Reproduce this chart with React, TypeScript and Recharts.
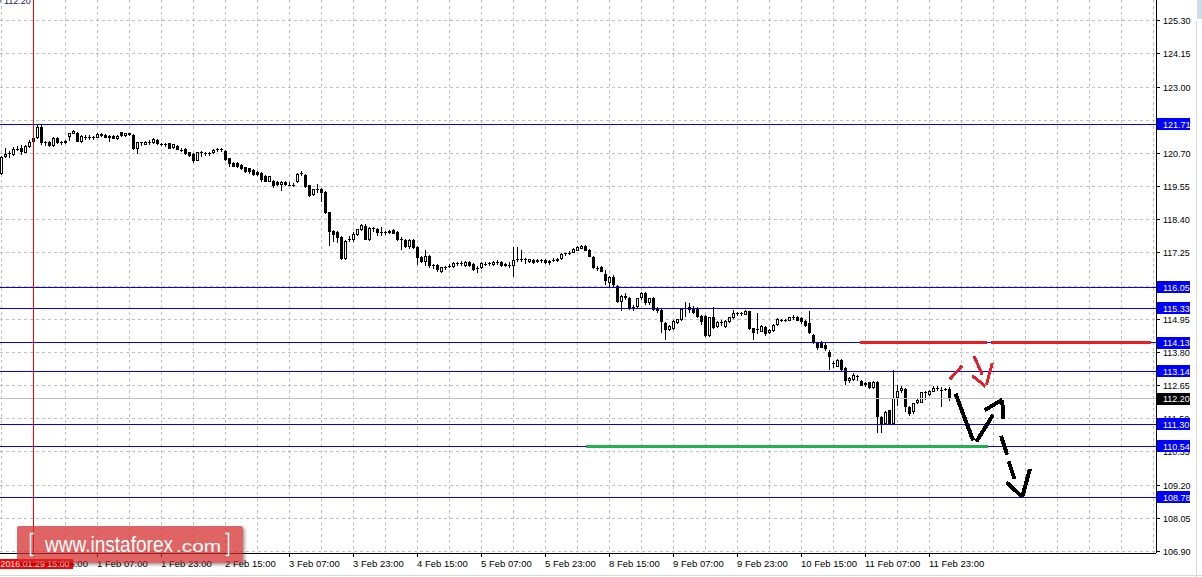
import { ComposedChart, Bar, XAxis, YAxis, CartesianGrid, ReferenceLine } from 'recharts';

const FONT = '"Liberation Sans", Arial, sans-serif';

// hourly candles, 29 Jan 07:00 .. 12 Feb 04:00
const opens = [
  120.00, 120.57, 120.68, 120.65, 120.86, 120.88, 120.72, 120.93, 121.10, 121.22,
  121.63, 121.05, 121.08, 120.95, 121.24, 121.06, 121.05, 121.28, 121.38, 121.42,
  121.11, 121.28, 121.27, 121.26, 121.25, 121.37, 121.34, 121.22, 121.31, 121.19,
  121.43, 121.30, 121.40, 121.34, 120.85, 121.08, 121.00, 121.11, 121.05, 121.17,
  121.03, 121.02, 121.05, 120.88, 120.96, 120.82, 120.86, 120.73, 120.68, 120.45,
  120.73, 120.70, 120.70, 120.70, 120.82, 120.85, 120.79, 120.53, 120.38, 120.37,
  120.30, 120.21, 120.18, 120.13, 120.07, 120.01, 119.92, 119.72, 119.75, 119.72,
  119.61, 119.72, 119.60, 119.62, 119.69, 120.00, 119.96, 119.60, 119.27, 119.46,
  119.45, 119.37, 118.65, 118.01, 117.99, 117.79, 117.04, 117.70, 117.68, 117.87,
  118.03, 118.19, 117.70, 118.10, 118.07, 117.95, 117.98, 117.93, 118.04, 117.98,
  117.72, 117.70, 117.45, 117.70, 117.45, 117.12, 116.95, 117.14, 116.78, 116.83,
  116.57, 116.75, 116.78, 116.76, 116.89, 116.88, 116.80, 116.95, 116.87, 116.72,
  116.72, 116.87, 116.88, 116.82, 116.93, 116.92, 116.87, 116.82, 116.78, 116.99,
  117.02, 117.04, 116.92, 117.01, 116.92, 117.00, 117.01, 116.90, 116.99, 116.96,
  117.04, 117.22, 117.23, 117.26, 117.33, 117.40, 117.48, 117.35, 117.12, 116.74,
  116.75, 116.52, 116.22, 116.43, 116.10, 115.56, 115.74, 115.68, 115.32, 115.36,
  115.67, 115.85, 115.50, 115.68, 115.29, 115.27, 114.81, 114.58, 114.60, 114.81,
  114.91, 115.33, 115.37, 115.33, 115.33, 115.07, 115.06, 114.37, 115.02, 114.67,
  114.87, 114.68, 114.84, 114.99, 115.15, 115.13, 115.10, 115.22, 114.64, 114.62,
  114.52, 114.68, 114.47, 114.53, 114.76, 114.93, 114.92, 114.90, 115.01, 115.03,
  114.98, 114.90, 114.81, 114.41, 114.14, 114.14, 114.05, 113.83, 113.42, 113.31,
  113.55, 113.26, 112.80, 112.85, 112.99, 112.82, 112.73, 112.76, 112.56, 112.76,
  111.55, 111.33, 111.79, 111.33, 112.21, 112.45, 112.53, 111.91, 111.72, 112.04,
  112.06, 112.41, 112.34, 112.43, 112.55, 112.50, 112.50, 112.53,
];
const highs = [
  120.61, 120.88, 120.78, 120.93, 120.95, 121.00, 121.00, 121.17, 121.25, 121.69,
  121.72, 121.14, 121.12, 121.28, 121.28, 121.14, 121.16, 121.42, 121.52, 121.45,
  121.34, 121.33, 121.32, 121.29, 121.39, 121.40, 121.37, 121.34, 121.33, 121.32,
  121.45, 121.42, 121.42, 121.36, 121.11, 121.11, 121.14, 121.17, 121.22, 121.19,
  121.06, 121.06, 121.07, 121.04, 121.00, 120.88, 120.88, 120.75, 120.70, 120.76,
  120.78, 120.73, 120.76, 120.85, 120.88, 120.88, 120.82, 120.55, 120.40, 120.40,
  120.32, 120.24, 120.20, 120.15, 120.10, 120.04, 119.95, 119.92, 119.78, 119.74,
  119.75, 119.74, 119.69, 119.67, 120.02, 120.09, 120.00, 119.62, 119.48, 119.64,
  119.50, 119.40, 118.68, 118.05, 118.02, 117.82, 117.70, 117.84, 117.96, 118.09,
  118.26, 118.24, 118.14, 118.13, 118.12, 118.13, 118.01, 118.05, 118.07, 118.00,
  117.80, 117.74, 117.72, 117.74, 117.48, 117.15, 117.35, 117.17, 116.85, 116.86,
  116.76, 116.80, 116.85, 116.92, 116.94, 116.98, 116.98, 116.98, 116.90, 116.80,
  116.92, 116.92, 116.94, 116.98, 117.01, 116.96, 116.90, 116.92, 117.45, 117.45,
  117.35, 117.07, 117.05, 117.03, 117.03, 117.03, 117.03, 117.00, 117.07, 117.07,
  117.26, 117.26, 117.33, 117.42, 117.50, 117.53, 117.51, 117.38, 117.15, 116.80,
  116.79, 116.64, 116.45, 116.47, 116.14, 115.78, 115.86, 115.72, 115.45, 115.70,
  115.89, 115.88, 115.70, 115.72, 115.36, 115.30, 114.84, 114.74, 114.93, 114.97,
  115.32, 115.53, 115.51, 115.41, 115.36, 115.10, 115.09, 115.04, 115.39, 114.90,
  114.92, 114.93, 115.04, 115.27, 115.19, 115.19, 115.27, 115.25, 114.66, 115.16,
  114.74, 114.71, 114.60, 114.78, 114.98, 114.97, 114.97, 115.04, 115.08, 115.06,
  115.01, 114.94, 115.22, 114.44, 114.17, 114.20, 114.12, 113.90, 113.50, 113.58,
  113.58, 113.29, 112.95, 113.07, 113.01, 112.86, 112.76, 112.79, 112.80, 112.80,
  111.58, 111.76, 111.82, 113.20, 112.68, 112.62, 112.57, 111.93, 112.05, 112.18,
  112.44, 112.46, 112.48, 112.65, 112.62, 112.60, 112.58, 112.59,
];
const lows = [
  119.95, 120.53, 120.55, 120.62, 120.78, 120.64, 120.70, 120.90, 121.07, 121.20,
  121.00, 120.95, 120.93, 120.93, 121.02, 120.99, 121.03, 121.14, 121.36, 121.08,
  121.07, 121.17, 121.17, 121.17, 121.23, 121.26, 121.22, 121.11, 121.19, 121.17,
  121.28, 121.28, 121.30, 120.82, 120.68, 120.96, 120.98, 121.00, 121.03, 121.00,
  120.95, 120.93, 120.84, 120.85, 120.80, 120.74, 120.63, 120.58, 120.38, 120.42,
  120.58, 120.61, 120.61, 120.68, 120.76, 120.76, 120.44, 120.24, 120.21, 120.18,
  120.13, 120.01, 120.00, 119.92, 119.92, 119.72, 119.70, 119.69, 119.49, 119.58,
  119.41, 119.56, 119.57, 119.53, 119.66, 119.90, 119.49, 119.20, 119.22, 119.32,
  119.03, 118.60, 117.49, 117.64, 117.59, 116.99, 117.00, 117.62, 117.62, 117.84,
  118.00, 117.68, 117.66, 117.98, 117.82, 117.84, 117.86, 117.90, 117.89, 117.65,
  117.35, 117.42, 117.40, 117.38, 116.83, 116.90, 116.78, 116.72, 116.70, 116.60,
  116.54, 116.66, 116.71, 116.74, 116.80, 116.80, 116.77, 116.76, 116.63, 116.55,
  116.70, 116.78, 116.79, 116.80, 116.84, 116.76, 116.75, 116.72, 116.40, 116.94,
  116.95, 116.87, 116.90, 116.88, 116.89, 116.89, 116.87, 116.84, 116.92, 116.94,
  117.02, 117.14, 117.18, 117.24, 117.32, 117.38, 117.31, 117.10, 116.70, 116.63,
  116.58, 116.14, 116.08, 116.05, 115.50, 115.22, 115.60, 115.28, 115.25, 115.33,
  115.62, 115.45, 115.46, 115.24, 115.17, 114.47, 114.24, 114.55, 114.57, 114.78,
  114.88, 115.04, 115.16, 115.12, 115.00, 114.75, 114.33, 114.34, 114.62, 114.64,
  114.70, 114.65, 114.82, 114.97, 115.05, 115.05, 115.08, 114.58, 114.24, 114.45,
  114.49, 114.37, 114.44, 114.51, 114.73, 114.85, 114.85, 114.88, 114.93, 114.88,
  114.80, 114.68, 114.44, 114.10, 113.89, 113.95, 113.84, 113.20, 113.26, 113.28,
  113.15, 112.68, 112.75, 112.80, 112.80, 112.62, 112.60, 112.52, 112.53, 111.00,
  111.00, 111.30, 111.30, 111.28, 111.93, 112.40, 111.75, 111.58, 111.68, 112.00,
  112.03, 112.16, 112.30, 112.41, 112.45, 111.90, 112.45, 112.12,
];
const closes = [
  120.57, 120.68, 120.70, 120.86, 120.84, 120.74, 120.97, 121.11, 121.22, 121.63,
  121.05, 121.10, 120.95, 121.24, 121.06, 121.08, 121.14, 121.40, 121.47, 121.11,
  121.30, 121.27, 121.26, 121.25, 121.37, 121.30, 121.25, 121.31, 121.21, 121.30,
  121.30, 121.40, 121.32, 120.85, 121.08, 121.07, 121.11, 121.10, 121.19, 121.03,
  121.02, 121.00, 120.86, 121.02, 120.82, 120.77, 120.67, 120.61, 120.42, 120.73,
  120.72, 120.71, 120.72, 120.82, 120.85, 120.84, 120.47, 120.32, 120.24, 120.22,
  120.16, 120.04, 120.04, 119.95, 119.95, 119.78, 119.72, 119.90, 119.58, 119.61,
  119.72, 119.59, 119.62, 119.60, 119.99, 120.03, 119.55, 119.23, 119.46, 119.42,
  119.32, 118.63, 117.99, 117.87, 117.76, 117.04, 117.67, 117.74, 117.91, 118.07,
  118.22, 117.70, 118.10, 118.08, 117.95, 117.99, 117.93, 118.02, 117.92, 117.70,
  117.68, 117.45, 117.70, 117.41, 117.07, 116.95, 117.14, 116.78, 116.83, 116.64,
  116.75, 116.77, 116.80, 116.89, 116.88, 116.90, 116.95, 116.78, 116.66, 116.74,
  116.89, 116.86, 116.89, 116.95, 116.95, 116.80, 116.78, 116.83, 117.01, 117.03,
  117.04, 117.02, 117.03, 116.90, 117.01, 116.99, 116.90, 116.98, 117.00, 117.05,
  117.22, 117.23, 117.25, 117.39, 117.47, 117.50, 117.33, 117.12, 116.73, 116.71,
  116.60, 116.26, 116.43, 116.12, 115.56, 115.74, 115.70, 115.30, 115.36, 115.67,
  115.87, 115.51, 115.68, 115.27, 115.25, 114.84, 114.58, 114.70, 114.90, 114.95,
  115.30, 115.29, 115.28, 115.18, 115.02, 114.84, 114.36, 115.02, 114.64, 114.87,
  114.85, 114.90, 115.02, 115.16, 115.13, 115.15, 115.25, 114.61, 114.47, 114.60,
  114.70, 114.44, 114.58, 114.76, 114.95, 114.92, 114.94, 115.02, 115.00, 114.90,
  114.84, 114.70, 114.47, 114.12, 113.95, 113.96, 113.93, 113.64, 113.40, 113.55,
  113.20, 112.80, 112.92, 113.02, 112.96, 112.65, 112.66, 112.56, 112.76, 111.55,
  111.33, 111.75, 111.33, 112.21, 112.45, 112.56, 111.91, 111.67, 112.04, 112.16,
  112.41, 112.39, 112.45, 112.56, 112.53, 112.48, 112.53, 112.20,
];

// time axis: a label every 16 bars, a grid line every 8
const timeTickIdx = [8, 24, 40, 56, 72, 88, 104, 120, 136, 152, 168, 184, 200, 216, 232];
const timeLabels = [
  '29 Jan 15:00', '1 Feb 07:00', '1 Feb 23:00', '2 Feb 15:00', '3 Feb 07:00',
  '3 Feb 23:00', '4 Feb 15:00', '5 Feb 07:00', '5 Feb 23:00', '8 Feb 15:00',
  '9 Feb 07:00', '9 Feb 23:00', '10 Feb 15:00', '11 Feb 07:00', '11 Feb 23:00',
];
const gridIdx = Array.from({ length: 37 }, (_, k) => k * 8);

const priceTicks = [
  106.90, 108.05, 109.20, 110.35, 111.50, 112.65, 113.80, 114.95, 116.10,
  117.25, 118.40, 119.55, 120.70, 121.85, 123.00, 124.15, 125.30,
];
const levelPrices = [121.71, 116.05, 115.33, 114.13, 113.14, 111.30, 110.54, 108.78];
const bidPrice = 112.20;

const markIdx = 8;
const markLabel = '2016.01.29 15:00';

// drawn objects (bar index, price)
const resistPrice = 114.13;
const resistSpans = [[214.5, 246.4], [247.4, 287.3]];
const supportPrice = 110.54;
const supportSpan = [146, 246.5];
const redStrokes = [
  [[237.1, 112.87], [240.2, 113.34]],
  [[243.1, 113.68], [245.2, 113.02]],
  [[242.7, 112.99], [246.0, 112.62]],
  [[247.7, 113.43], [246.25, 112.68]],
];
const blackStrokes = [
  [[238.5, 112.37], [242.9, 110.75]],
  [[243.75, 110.71], [247.9, 111.64]],
  [[245.75, 111.79], [250.2, 112.16]],
  [[250.2, 112.16], [250.4, 111.49]],
  [[249.9, 110.91], [251.4, 110.25]],
  [[251.8, 110.02], [253.25, 109.41]],
  [[251.25, 109.29], [255.2, 108.79]],
  [[257.1, 109.76], [255.2, 108.79]],
];

const candles = opens.map((o, i) => ({ i, o, h: highs[i], l: lows[i], c: closes[i] }));

function Candle(props: any) {
  const { x, y, width, height, payload } = props;
  if (!payload || height == null || isNaN(y)) return <g />;
  const { o, h, l, c } = payload;
  const k = h > l ? height / (h - l) : 0;
  const col = Math.floor(x + width / 2 + 0.01);
  const yTop = Math.round(y);
  const yBot = Math.max(yTop + 1, Math.round(y + height));
  const yo = Math.round(y + (h - o) * k);
  const yc = Math.round(y + (h - c) * k);
  const bt = Math.min(yo, yc);
  const bh = Math.max(1, Math.abs(yo - yc));
  const bull = c > o;
  return (
    <g>
      <rect x={col} y={yTop} width={1} height={yBot - yTop} fill="#000" />
      <rect x={col - 1} y={bt} width={3} height={bh} fill="#000" />
      {bull && bh >= 3 && <rect x={col} y={bt + 1} width={1} height={bh - 2} fill="#fff" />}
    </g>
  );
}

function TimeTick(props: any) {
  const { x, y, payload } = props;
  const k = timeTickIdx.indexOf(payload.value);
  if (k < 0) return <g />;
  return (
    <g>
      <line x1={x} y1={y - 4} x2={x} y2={y} stroke="#000" />
      <text x={x - 0.5} y={y + 10} fontSize={9.5} fontFamily={FONT} fill="#000">
        {timeLabels[k]}
      </text>
      {payload.value === markIdx && (
        <g>
          <rect x={x - 34} y={y + 2} width={73} height={10} fill="#ff0000" />
          <text x={x - 33} y={y + 10} fontSize={9.5} fontFamily={FONT} fill="#fff" textLength={69} lengthAdjust="spacingAndGlyphs">
            {markLabel}
          </text>
        </g>
      )}
    </g>
  );
}

function PriceTick(props: any) {
  const { x, y, payload } = props;
  const v = payload.value;
  const txt = v.toFixed(2);
  if (v === bidPrice || levelPrices.includes(v)) {
    return (
      <g>
        <rect x={x - 6} y={y - 6} width={33} height={12} fill={v === bidPrice ? '#000' : '#0000ff'} />
        <text x={x} y={y + 3.5} fontSize={9} fontFamily={FONT} fill="#fff">{txt}</text>
      </g>
    );
  }
  return (
    <text x={x} y={y + 3.5} fontSize={9} fontFamily={FONT} fill="#000">{txt}</text>
  );
}

export default function App() {
  return (
    <div className="mt-chart" style={{ position: 'absolute', left: 0, top: 0, width: 1202, height: 577, background: '#fff', overflow: 'hidden' }}>
      <style>{'.mt-chart .recharts-surface * { shape-rendering: crispEdges; }'}</style>
      <ComposedChart width={1202} height={577} data={candles} margin={{ top: 0, right: 0, left: 0, bottom: 0 }}>
        <CartesianGrid stroke="#c0c0c0" strokeDasharray="3 3" horizontalValues={priceTicks} verticalValues={gridIdx} />
        <XAxis
          dataKey="i"
          type="number"
          domain={[-0.375, 288.625]}
          allowDataOverflow
          ticks={gridIdx}
          interval={0}
          height={24}
          tickSize={4}
          tickMargin={0}
          tickLine={false}
          axisLine={{ stroke: '#000' }}
          tick={<TimeTick />}
        />
        <YAxis
          orientation="right"
          type="number"
          width={46}
          domain={[106.845, 126.017]}
          allowDataOverflow
          ticks={[...priceTicks, ...levelPrices, bidPrice]}
          interval={0}
          tickSize={4}
          tickMargin={3}
          axisLine={{ stroke: '#000' }}
          tickLine={{ stroke: '#000' }}
          tick={<PriceTick />}
        />
        <ReferenceLine y={bidPrice} stroke="#c0c0c0" />
        {levelPrices.map((p) => (
          <ReferenceLine key={p} y={p} stroke="#0000ff" />
        ))}
        <ReferenceLine x={markIdx} stroke="#ff0000" />
        <Bar dataKey={(d: any) => [d.l, d.h]} barSize={3} shape={<Candle />} isAnimationActive={false} />
        {resistSpans.map(([a, b]) => (
          <ReferenceLine key={'r' + a} segment={[{ x: a, y: resistPrice }, { x: b, y: resistPrice }]} stroke="#ed1c24" strokeWidth={3} />
        ))}
        <ReferenceLine segment={[{ x: supportSpan[0], y: supportPrice }, { x: supportSpan[1], y: supportPrice }]} stroke="#22b14c" strokeWidth={3} />
        {redStrokes.map(([p, q], k) => (
          <ReferenceLine key={'rs' + k} segment={[{ x: p[0], y: p[1] }, { x: q[0], y: q[1] }]} stroke="#ed1c24" strokeWidth={3} />
        ))}
        {blackStrokes.map(([p, q], k) => (
          <ReferenceLine key={'bs' + k} segment={[{ x: p[0], y: p[1] }, { x: q[0], y: q[1] }]} stroke="#000" strokeWidth={4} />
        ))}
      </ComposedChart>

      {/* window chrome around the chart */}
      <svg width={1202} height={577} style={{ position: 'absolute', left: 0, top: 0, pointerEvents: 'none' }}>
        <text x={-1} y={4} fontSize={9} fontFamily={FONT} fill="#1a1a5a">/ 112.20</text>
        <line x1={0} y1={575.5} x2={1202} y2={575.5} stroke="#d8d8d8" />
        <line x1={1196.5} y1={20} x2={1196.5} y2={577} stroke="#d8d8d8" />
        <rect x={1197} y={0} width={5} height={19} fill="#d0dae8" />
      </svg>

      {/* instaforex watermark */}
      <div
        style={{
          position: 'absolute', left: 17, top: 526, width: 226, height: 37,
          background: 'rgba(214, 40, 42, 0.72)', borderRadius: 2,
          boxShadow: '2px 2px 3px rgba(0,0,0,0.35)',
        }}
      />
      <svg width={1202} height={577} style={{ position: 'absolute', left: 0, top: 0, pointerEvents: 'none' }}>
        <path d="M34,533.5 H30.5 V555.5 H34" stroke="#fff" strokeWidth={1.5} fill="none" />
        <text x={45} y={552} fontSize={22} fontFamily={FONT} fill="#fff" textLength={128} lengthAdjust="spacingAndGlyphs">
          www.instaforex
        </text>
        <text x={176} y={552} fontSize={17} fontFamily={FONT} fill="#fff" textLength={45} lengthAdjust="spacingAndGlyphs">.com</text>
        <path d="M225,533.5 H228.5 V555.5 H225" stroke="#fff" strokeWidth={1.5} fill="none" />
      </svg>
    </div>
  );
}
